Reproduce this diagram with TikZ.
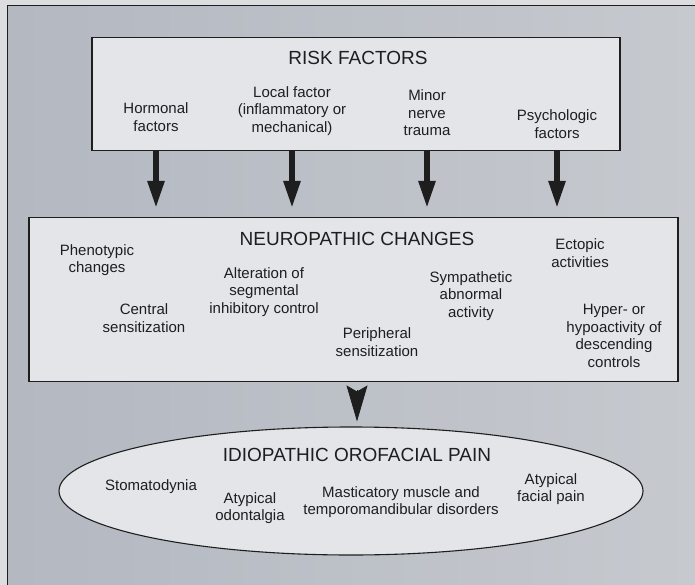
\documentclass[tikz,border=0pt]{standalone}
\usepackage{fontspec}
\setmainfont{Liberation Sans}
\usetikzlibrary{shapes.geometric,arrows.meta}
\definecolor{pagebg}{HTML}{DCDDDF}
\definecolor{panelL}{HTML}{B3B8C1}
\definecolor{panelR}{HTML}{C6C9CE}
\definecolor{boxfill}{HTML}{E3E5E9}
\definecolor{ink}{HTML}{1E1E1E}
\begin{document}
\begin{tikzpicture}[x=1pt, y=-1pt,
  box/.style={draw=ink, line width=1.1pt, fill=boxfill, inner sep=0pt},
  lbl/.style={align=center, text=ink, font=\fontsize{15}{17.5}\selectfont},
  ttl/.style={text=ink, font=\fontsize{19}{22}\selectfont},
  down/.style={-{Triangle[length=27pt,width=16pt]}, line width=5.5pt, draw=ink, shorten >=9pt}]
\useasboundingbox (0,0) rectangle (695,585);
\fill[pagebg] (0,0) rectangle (695,585);
\shade[left color=panelL, right color=panelR] (7,6) rectangle (695,585);
\draw[ink, line width=1pt] (7,585) -- (7,6) -- (695,6);
% the three frames
\node[box, minimum width=528pt, minimum height=113.5pt] (risk) at (356,94) {};
\node[box, minimum width=649pt, minimum height=164pt] (neuro) at (353.5,299.5) {};
\node[box, ellipse, minimum width=584pt, minimum height=128pt] (pain) at (351,491) {};
\node[ttl] (risktitle) at (358,58) {RISK FACTORS};
\node[ttl] (neurotitle) at (357,239) {NEUROPATHIC CHANGES};
\node[ttl] (paintitle) at (357,455) {IDIOPATHIC OROFACIAL PAIN};
% risk factors
\node[lbl] (hormonal) at (156,117) {Hormonal\\factors};
\node[lbl] (local) at (292,111) {Local factor\\(inflammatory or\\mechanical)};
\node[lbl] (minor) at (427,113) {Minor\\nerve\\trauma};
\node[lbl] (psycho) at (557,124) {Psychologic\\factors};
% neuropathic changes
\node[lbl] (pheno) at (97,260) {Phenotypic\\changes};
\node[lbl] (central) at (144,318) {Central\\sensitization};
\node[lbl] (segm) at (264,292) {Alteration of\\segmental\\inhibitory control};
\node[lbl] (periph) at (377,342) {Peripheral\\sensitization};
\node[lbl] (symp) at (471,296) {Sympathetic\\abnormal\\activity};
\node[lbl] (ectopic) at (580,253) {Ectopic\\activities};
\node[lbl] (descend) at (614,336) {Hyper- or\\hypoactivity of\\descending\\controls};
% pain
\node[lbl] (stomato) at (151,487) {Stomatodynia};
\node[lbl] (odont) at (250,508) {Atypical\\odontalgia};
\node[lbl] (mastic) at (401,502) {Masticatory muscle and\\temporomandibular disorders};
\node[lbl] (facial) at (551,489) {Atypical\\facial pain};
% arrows
\foreach \src in {hormonal,local,minor,psycho}
  \draw[down] (risk.south -| \src) -- (neuro.north -| \src);
\draw[-{Stealth[length=36pt,width=21pt,inset=6pt]}, line width=0.8pt, ink, shorten <=8pt, shorten >=5pt]
  (neuro.south -| paintitle) -- (pain.north -| paintitle);
\end{tikzpicture}
\end{document}
